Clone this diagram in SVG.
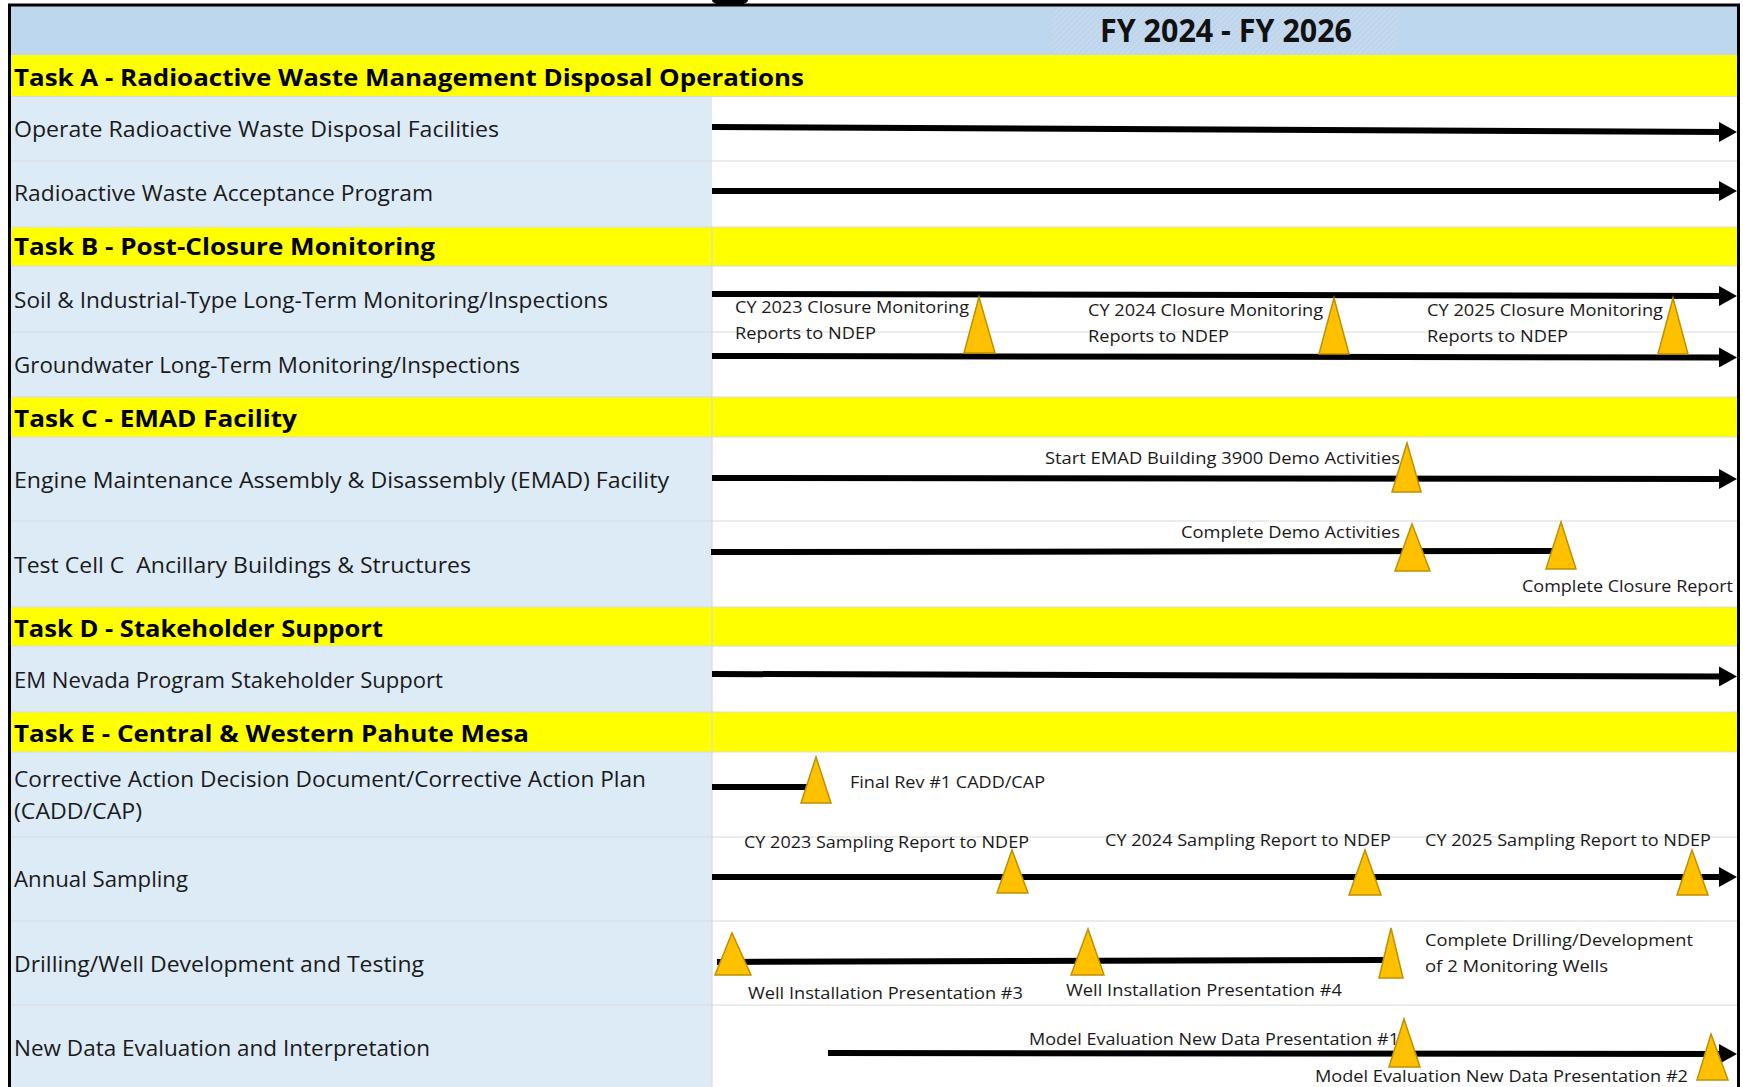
<svg xmlns="http://www.w3.org/2000/svg" width="1743" height="1087" viewBox="0 0 1743 1087">
<defs>
<style>
.row{font-family:"Open Sans","Liberation Sans",sans-serif;font-size:21.5px;fill:#1a1a1a}
.task{font-family:"Open Sans","Liberation Sans",sans-serif;font-size:23px;font-weight:bold;fill:#000}
.ms{font-family:"Open Sans","Liberation Sans",sans-serif;font-size:17px;fill:#1a1a1a}
.hdr{font-family:"Open Sans","Liberation Sans",sans-serif;font-size:32px;font-weight:bold;fill:#111}
.tri{fill:#FFC000;stroke:#BF9000;stroke-width:1.5}
.bar{stroke:#000;stroke-width:6;fill:none}
.grid{stroke:#D9D9D9;stroke-width:1.2}
.band{fill:#FFFF00}
</style>
<marker id="arr" markerUnits="userSpaceOnUse" markerWidth="18" markerHeight="20" refX="6" refY="10" orient="auto"><path d="M0,0 L18,10 L0,20 z" fill="#000"/></marker>
<pattern id="hatch" patternUnits="userSpaceOnUse" width="4" height="4" patternTransform="rotate(45)"><rect width="4" height="4" fill="#C4D9EE"/><line x1="0" y1="0" x2="0" y2="4" stroke="#B2CAE2" stroke-width="1"/></pattern>
</defs>

<g id="background">
<rect x="0" y="0" width="1743" height="1087" fill="#FFFFFF"/>
<ellipse cx="730" cy="0" rx="18" ry="6" fill="#000"/>
<rect x="9.5" y="5" width="1729" height="50" fill="#BDD7EE"/>
<rect x="1052" y="7" width="345" height="46" fill="url(#hatch)"/>
<rect x="9.5" y="96" width="702.5" height="991" fill="#DDEBF7"/>
<rect class="band" x="9.5" y="55" width="1729" height="41.5"/>
<rect class="band" x="9.5" y="227" width="1729" height="39"/>
<rect class="band" x="9.5" y="397" width="1729" height="40"/>
<rect class="band" x="9.5" y="607" width="1729" height="39"/>
<rect class="band" x="9.5" y="712" width="1729" height="40"/>
</g>

<g id="grid">
<line class="grid" x1="9.5" y1="161" x2="1738" y2="161"/>
<line class="grid" x1="9.5" y1="332" x2="1738" y2="332"/>
<line class="grid" x1="9.5" y1="521" x2="1738" y2="521"/>
<line class="grid" x1="9.5" y1="837" x2="1738" y2="837"/>
<line class="grid" x1="9.5" y1="921" x2="1738" y2="921"/>
<line class="grid" x1="9.5" y1="1005" x2="1738" y2="1005"/>
<line class="grid" x1="9.5" y1="96.5" x2="1738" y2="96.5"/>
<line class="grid" x1="9.5" y1="227" x2="1738" y2="227"/>
<line class="grid" x1="9.5" y1="266" x2="1738" y2="266"/>
<line class="grid" x1="9.5" y1="397" x2="1738" y2="397"/>
<line class="grid" x1="9.5" y1="437" x2="1738" y2="437"/>
<line class="grid" x1="9.5" y1="607" x2="1738" y2="607"/>
<line class="grid" x1="9.5" y1="646" x2="1738" y2="646"/>
<line class="grid" x1="9.5" y1="712" x2="1738" y2="712"/>
<line class="grid" x1="9.5" y1="752" x2="1738" y2="752"/>
<line class="grid" x1="712" y1="227" x2="712" y2="1087"/>
</g>

<g id="header">
<text class="hdr" x="1100" y="42" textLength="252" lengthAdjust="spacingAndGlyphs">FY 2024 - FY 2026</text>
</g>

<g id="taskA">
<text class="task" x="14" y="86" textLength="790" lengthAdjust="spacingAndGlyphs">Task A - Radioactive Waste Management Disposal Operations</text>
</g>
<g id="row-operate">
<text class="row" x="14" y="137" textLength="485" lengthAdjust="spacingAndGlyphs">Operate Radioactive Waste Disposal Facilities</text>
</g>
<g id="row-acceptance">
<text class="row" x="14" y="201" textLength="419" lengthAdjust="spacingAndGlyphs">Radioactive Waste Acceptance Program</text>
</g>
<g id="taskB">
<text class="task" x="14" y="255" textLength="421" lengthAdjust="spacingAndGlyphs">Task B - Post-Closure Monitoring</text>
</g>
<g id="row-soil">
<text class="row" x="14" y="308" textLength="594" lengthAdjust="spacingAndGlyphs">Soil &amp; Industrial-Type Long-Term Monitoring/Inspections</text>
</g>
<g id="row-groundwater">
<text class="row" x="14" y="373" textLength="506" lengthAdjust="spacingAndGlyphs">Groundwater Long-Term Monitoring/Inspections</text>
</g>
<g id="taskC">
<text class="task" x="14" y="427" textLength="283" lengthAdjust="spacingAndGlyphs">Task C - EMAD Facility</text>
</g>
<g id="row-emad">
<text class="row" x="14" y="488" textLength="655" lengthAdjust="spacingAndGlyphs">Engine Maintenance Assembly &amp; Disassembly (EMAD) Facility</text>
</g>
<g id="row-testcell">
<text class="row" x="14" y="573" textLength="457" lengthAdjust="spacingAndGlyphs" xml:space="preserve">Test Cell C  Ancillary Buildings &amp; Structures</text>
</g>
<g id="taskD">
<text class="task" x="14" y="637" textLength="369" lengthAdjust="spacingAndGlyphs">Task D - Stakeholder Support</text>
</g>
<g id="row-emnevada">
<text class="row" x="14" y="688" textLength="429" lengthAdjust="spacingAndGlyphs">EM Nevada Program Stakeholder Support</text>
</g>
<g id="taskE">
<text class="task" x="14" y="742" textLength="515" lengthAdjust="spacingAndGlyphs">Task E - Central &amp; Western Pahute Mesa</text>
</g>
<g id="row-cadd">
<text class="row" x="14" y="787" textLength="632" lengthAdjust="spacingAndGlyphs">Corrective Action Decision Document/Corrective Action Plan</text>
<text class="row" x="14" y="819" textLength="128" lengthAdjust="spacingAndGlyphs">(CADD/CAP)</text>
</g>
<g id="row-sampling">
<text class="row" x="14" y="887" textLength="174" lengthAdjust="spacingAndGlyphs">Annual Sampling</text>
</g>
<g id="row-drilling">
<text class="row" x="14" y="972" textLength="410" lengthAdjust="spacingAndGlyphs">Drilling/Well Development and Testing</text>
</g>
<g id="row-newdata">
<text class="row" x="14" y="1056" textLength="416" lengthAdjust="spacingAndGlyphs">New Data Evaluation and Interpretation</text>
</g>

<g id="connectors">
<path class="bar" d="M712,127 L1725,132" marker-end="url(#arr)"/>
<path class="bar" d="M712,191 L1725,191" marker-end="url(#arr)"/>
<path class="bar" d="M712,294 L1725,296" marker-end="url(#arr)"/>
<path class="bar" d="M712,356 L1725,357.5" marker-end="url(#arr)"/>
<path class="bar" d="M712,478 L1725,479" marker-end="url(#arr)"/>
<path class="bar" d="M711,552 L1552,551"/>
<path class="bar" d="M712,674 L1725,676.5" marker-end="url(#arr)"/>
<path class="bar" d="M712,787 L808,787"/>
<path class="bar" d="M712,877 L1725,877" marker-end="url(#arr)"/>
<path class="bar" d="M717,962 L1386,960"/>
<path class="bar" d="M828,1053 L1725,1054" marker-end="url(#arr)"/>
</g>

<g id="milestones-closure">
<text class="ms" x="735" y="313" textLength="234" lengthAdjust="spacingAndGlyphs">CY 2023 Closure Monitoring</text>
<text class="ms" x="735" y="339" textLength="141" lengthAdjust="spacingAndGlyphs">Reports to NDEP</text>
<text class="ms" x="1088" y="316" textLength="235" lengthAdjust="spacingAndGlyphs">CY 2024 Closure Monitoring</text>
<text class="ms" x="1088" y="342" textLength="141" lengthAdjust="spacingAndGlyphs">Reports to NDEP</text>
<text class="ms" x="1427" y="316" textLength="236" lengthAdjust="spacingAndGlyphs">CY 2025 Closure Monitoring</text>
<text class="ms" x="1427" y="342" textLength="141" lengthAdjust="spacingAndGlyphs">Reports to NDEP</text>
<polygon class="tri" points="964,353 979,297 995,353"/>
<polygon class="tri" points="1319,354 1334,298 1349,354"/>
<polygon class="tri" points="1658,354 1673,298 1688,354"/>
</g>

<g id="milestones-emad">
<text class="ms" x="1045" y="464" textLength="355" lengthAdjust="spacingAndGlyphs">Start EMAD Building 3900 Demo Activities</text>
<polygon class="tri" points="1392,492 1407,443 1421,492"/>
</g>

<g id="milestones-testcell">
<text class="ms" x="1181" y="538" textLength="219" lengthAdjust="spacingAndGlyphs">Complete Demo Activities</text>
<text class="ms" x="1522" y="592" textLength="211" lengthAdjust="spacingAndGlyphs">Complete Closure Report</text>
<polygon class="tri" points="1395,571 1412,524 1430,571"/>
<polygon class="tri" points="1546,569 1561,522 1576,569"/>
</g>

<g id="milestones-cadd">
<text class="ms" x="850" y="788" textLength="195" lengthAdjust="spacingAndGlyphs">Final Rev #1 CADD/CAP</text>
<polygon class="tri" points="801,803 816,757 831,803"/>
</g>

<g id="milestones-sampling">
<text class="ms" x="744" y="848" textLength="285" lengthAdjust="spacingAndGlyphs">CY 2023 Sampling Report to NDEP</text>
<text class="ms" x="1105" y="846" textLength="286" lengthAdjust="spacingAndGlyphs">CY 2024 Sampling Report to NDEP</text>
<text class="ms" x="1425" y="846" textLength="286" lengthAdjust="spacingAndGlyphs">CY 2025 Sampling Report to NDEP</text>
<polygon class="tri" points="997,893 1012,850 1028,893"/>
<polygon class="tri" points="1349,895 1365,850 1381,895"/>
<polygon class="tri" points="1677,895 1692,850 1708,895"/>
</g>

<g id="milestones-drilling">
<text class="ms" x="748" y="999" textLength="275" lengthAdjust="spacingAndGlyphs">Well Installation Presentation #3</text>
<text class="ms" x="1066" y="996" textLength="276" lengthAdjust="spacingAndGlyphs">Well Installation Presentation #4</text>
<text class="ms" x="1425" y="946" textLength="268" lengthAdjust="spacingAndGlyphs">Complete Drilling/Development</text>
<text class="ms" x="1425" y="972" textLength="183" lengthAdjust="spacingAndGlyphs">of 2 Monitoring Wells</text>
<polygon class="tri" points="715,975 732,933 751,975"/>
<polygon class="tri" points="1071,975 1088,929 1104,975"/>
<polygon class="tri" points="1379,978 1391,928 1403,978"/>
</g>

<g id="milestones-newdata">
<text class="ms" x="1029" y="1045" textLength="370" lengthAdjust="spacingAndGlyphs">Model Evaluation New Data Presentation #1</text>
<text class="ms" x="1315" y="1082" textLength="373" lengthAdjust="spacingAndGlyphs">Model Evaluation New Data Presentation #2</text>
<polygon class="tri" points="1389,1067 1404,1019 1420,1067"/>
<polygon class="tri" points="1697,1080 1711,1034 1728,1080"/>
</g>

<g id="frame">
<rect x="9.5" y="5" width="1729" height="1090" fill="none" stroke="#000" stroke-width="3"/>
</g>
</svg>
